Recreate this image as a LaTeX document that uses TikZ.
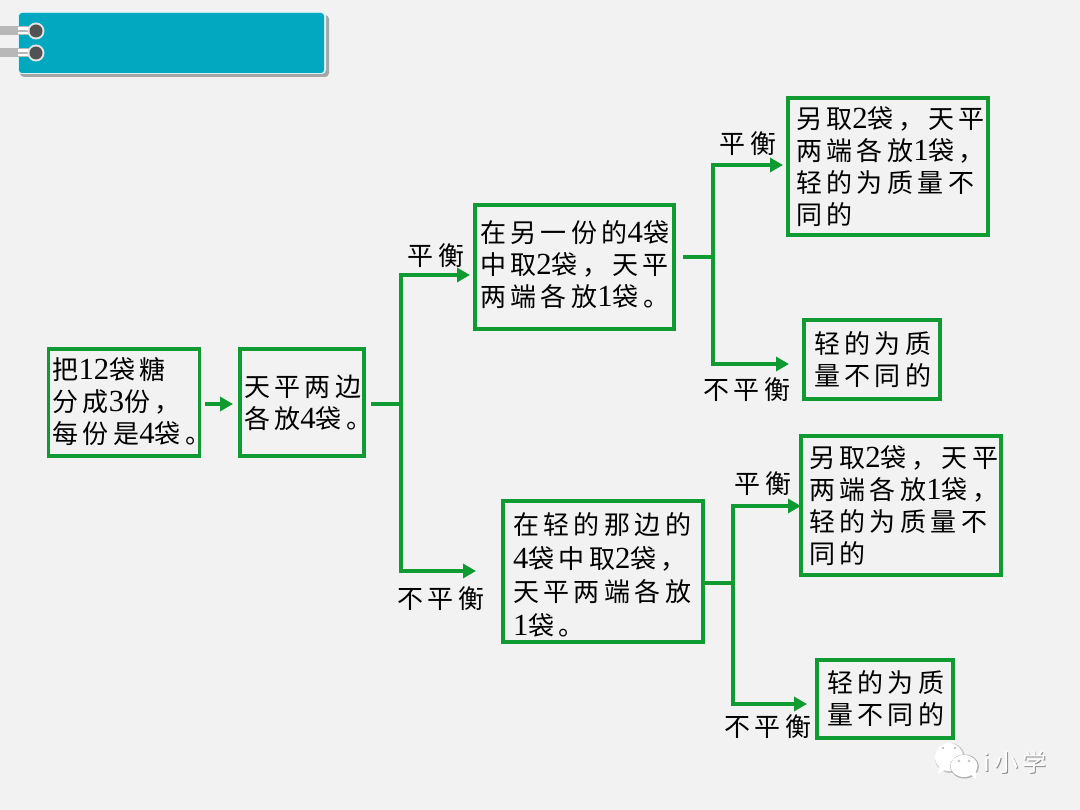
\documentclass[tikz,border=0pt]{standalone}
\usepackage{fontspec}
\setmainfont[LetterSpace=17]{Noto Sans CJK SC}
\newfontfamily\dg[Scale=1.18]{Liberation Serif}
\newcommand{\D}[1]{{\dg #1}}
\newcommand{\Up}[1]{\rule[-#1pt]{0pt}{0pt}}
\usetikzlibrary{arrows.meta}
\definecolor{bg}{HTML}{F2F2F2}
\definecolor{grn}{HTML}{109A32}
\definecolor{teal1}{HTML}{02A8C0}
\tikzset{
  box/.style n args={3}{draw=grn,line width=3.5pt,align=left,inner xsep=#3pt,inner ysep=0pt,anchor=center,
    text width=#1pt-2*#3pt,minimum height=#2pt,
    font=\fontsize{26}{32}\selectfont,text=black},
  lbl/.style={font=\fontsize{26}{30}\selectfont,text=black,inner sep=0pt},
  line/.style={draw=grn,line width=3.5pt},
  arr/.style={draw=grn,line width=3.5pt,-{Triangle[length=13pt,width=14pt]}},
}
\begin{document}
\begin{tikzpicture}[x=1pt,y=-1pt]
\useasboundingbox (0,0) rectangle (1080,810);
\fill[bg] (0,0) rectangle (1080,810);
% header tab
\fill[black!35,rounded corners=4pt] (20,15) rectangle (329,77);
\fill[white!85!teal1,rounded corners=4pt] (18,12) rectangle (326,74);
\fill[teal1,rounded corners=3pt] (19,13) rectangle (324,73);
\foreach \yy in {31,53}{
  \fill[black!28] (0,\yy-5) rectangle (30,\yy+4);
  \fill[white] (18,\yy-3.5) rectangle (36,\yy-1);
  \fill[white] (18,\yy+1) rectangle (36,\yy+3.5);
  \fill[white!90!black] (36,\yy) circle (8.5);
  \fill[black!68] (36,\yy) circle (6.5);
  \fill[black!68] (30,\yy-1) rectangle (36,\yy+1);
}
% boxes
\node[box={151}{107}{4}] (A) at (124,402.5) {把\D{12}袋糖\\分成\D{3}份，\\每份是\D{4}袋。\Up{3}};
\node[box={124}{107}{4}] (B) at (302,402.5) {天平两边\\各放\D{4}袋。};
\node[box={199}{124}{5}] (C) at (574.5,267) {在另一份的\D{4}袋\\中取\D{2}袋，天平\\两端各放\D{1}袋。\Up{7}};
\node[box={200}{137}{8}] (D) at (888,166.5) {另取\D{2}袋，天平\\两端各放\D{1}袋，\\轻的为质量不\\同的};
\node[box={136}{79}{10}] (E) at (872,359.5) {轻的为质\\量不同的};
\node[box={200}{141}{10},font=\fontsize{26}{33.5}\selectfont] (F) at (603,571.5) {\rule{0pt}{29pt}在轻的那边的\\\D{4}袋中取\D{2}袋，\\天平两端各放\\\D{1}袋。};
\node[box={200}{139}{8}] (G) at (901,505.5) {另取\D{2}袋，天平\\两端各放\D{1}袋，\\轻的为质量不\\同的};
\node[box={136}{78}{10}] (H) at (885,699) {轻的为质\\量不同的};
% junctions
\coordinate (j1) at (401,404);
\coordinate (j2) at (713,257);
\coordinate (j3) at (733,583);
\coordinate (tc) at (470,275);
\coordinate (tu) at (476,571);
\coordinate (td) at (783,165);
\coordinate (te) at (789,364);
\coordinate (tg) at (801,506);
\coordinate (th) at (807,704);
\coordinate (sB) at (205,404);
\coordinate (tB) at (233,404);
% connectors
\draw[arr] (sB) -- (tB);
\draw[line,shorten <=5pt] (B.east|-j1) -- (j1);
\draw[arr] (j1) |- (tc);
\draw[arr] (j1) |- (tu);
\draw[line,shorten <=7pt] (C.east|-j2) -- (j2);
\draw[arr] (j2) |- (td);
\draw[arr] (j2) |- (te);
\draw[line] (F.east|-j3) -- (j3);
\draw[arr] (j3) |- (tg);
\draw[arr] (j3) |- (th);
% labels
\node[lbl] (l1) at (436,256) {平衡};
\node[lbl] (l2) at (441,599) {不平衡};
\node[lbl] (l3) at (748,144) {平衡};
\node[lbl] (l4) at (747,390) {不平衡};
\node[lbl] (l5) at (763,484) {平衡};
\node[lbl] (l6) at (768,727) {不平衡};
% watermark
\fill[black!22] (950,758) ellipse (15 and 15);
\fill[white] (949,757) ellipse (14 and 14);
\fill[white] (939,767) -- (945,770) -- (938,774) -- cycle;
\fill[black!30] (964.5,766.5) ellipse (14.5 and 12);
\fill[white] (964,766) ellipse (13.5 and 11);
\fill[white] (970,774) -- (976,779) -- (976,771) -- cycle;
\fill[black!25] (943,748) circle (1.3) (955,748) circle (1.3) (959,761) circle (1.3) (969,761) circle (1.3);
\node[font=\fontsize{24}{30}\selectfont,text=black!45,inner sep=0pt] (w0) at (1016,763) {i小学};
\node[font=\fontsize{24}{30}\selectfont,text=white,inner sep=0pt] (w1) at (1015,762) {i小学};
\end{tikzpicture}
\end{document}
